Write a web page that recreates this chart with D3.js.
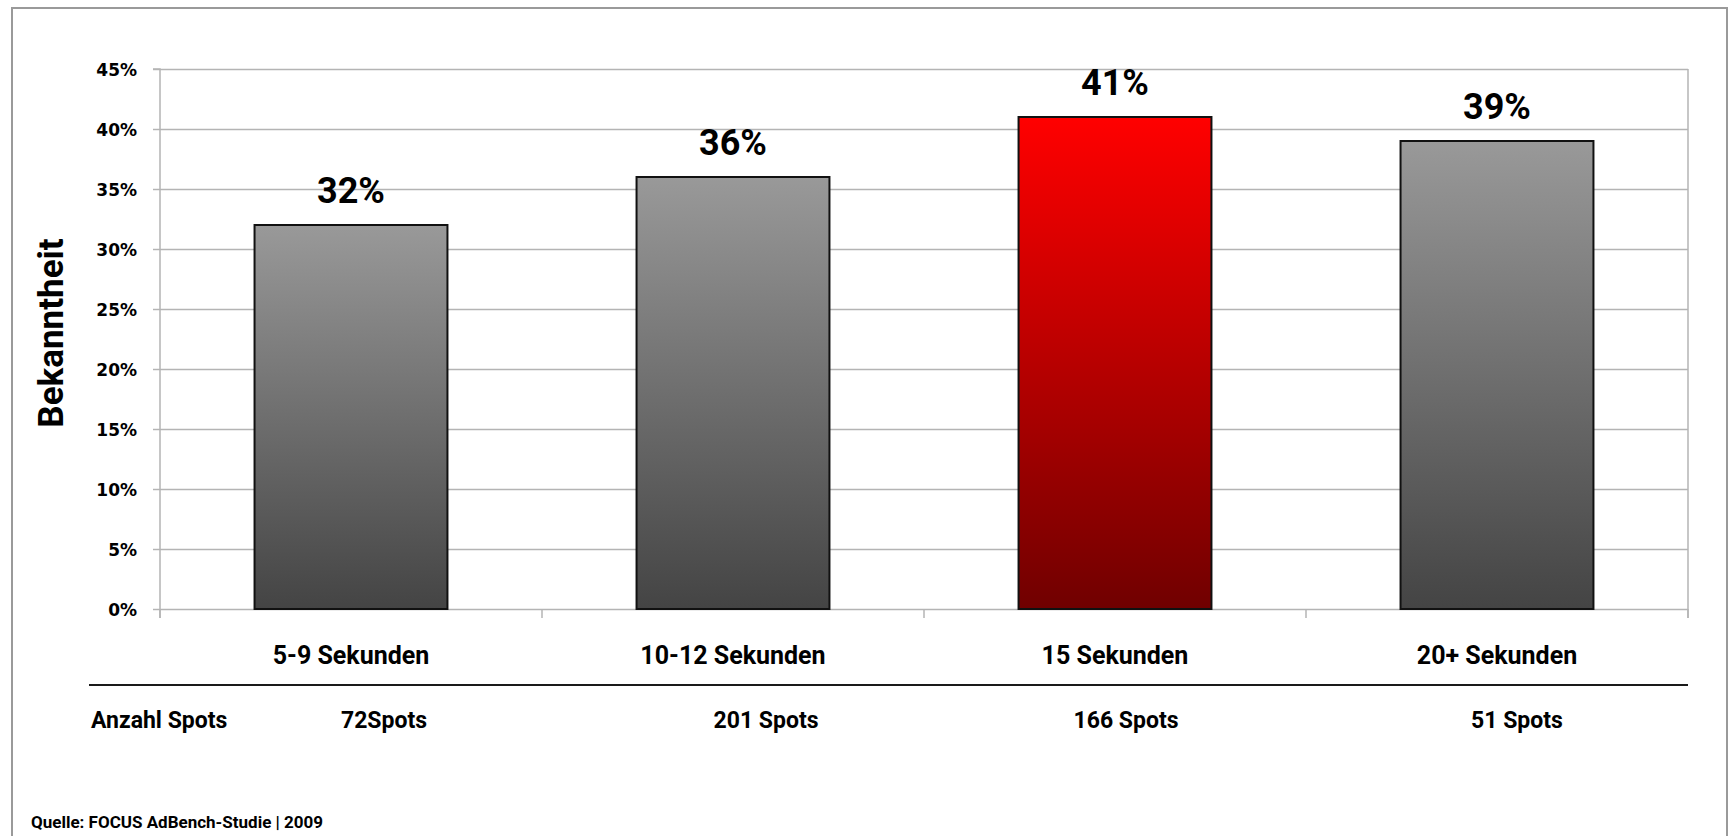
<!DOCTYPE html>
<html>
<head>
<meta charset="utf-8">
<script src="https://cdn.jsdelivr.net/npm/d3@7"></script>
<style>
  body { margin: 0; background: #fff; }
  text { font-family: Roboto, 'Noto Sans', sans-serif; font-weight: bold; fill: #000; }
</style>
</head>
<body>
<svg id="chart" width="1732" height="836"></svg>
<script>
const categories = ['5-9 Sekunden', '10-12 Sekunden', '15 Sekunden', '20+ Sekunden']
const values = [32, 36, 41, 39]
const spotLabels = ['72Spots', '201 Spots', '166 Spots', '51 Spots']
const highlighted = ['15 Sekunden']
const yTicks = [0, 5, 10, 15, 20, 25, 30, 35, 40, 45]
const yTitle = 'Bekanntheit'
const rowTitle = 'Anzahl Spots'
const source = 'Quelle: FOCUS AdBench-Studie | 2009'

// the spot counts sit in loose text boxes, not exactly under the bars
const spotShift = [33, 33, 11, 20]

const svg = d3.select('#chart')
const plotLeft = 160, plotRight = 1688, plotTop = 69, plotBottom = 609

const x = d3.scaleBand()
    .domain(categories)
    .range([plotLeft, plotRight])
    .paddingInner(0.495)
    .paddingOuter(0.2475)

const y = d3.scaleLinear()
    .domain([0, 45])
    .range([plotBottom, plotTop])

// outer frame
svg.append('rect')
    .attr('x', 12).attr('y', 8)
    .attr('width', 1715).attr('height', 840)
    .attr('fill', 'none')
    .attr('stroke', '#9a9a9a')
    .attr('stroke-width', 2)

const defs = svg.append('defs')
function gradient(id, c1, c2) {
  const g = defs.append('linearGradient')
      .attr('id', id)
      .attr('x1', 0).attr('y1', 0).attr('x2', 0).attr('y2', 1)
  g.append('stop').attr('offset', '0%').attr('stop-color', c1)
  g.append('stop').attr('offset', '100%').attr('stop-color', c2)
}
gradient('gGrey', '#999999', '#444444')
gradient('gRed', '#ff0000', '#700000')

// gridlines
svg.append('g')
    .attr('transform', `translate(${plotLeft},0)`)
    .call(d3.axisLeft(y).tickValues(yTicks).tickSize(-(plotRight - plotLeft)).tickFormat(''))
    .call(g => g.select('.domain').remove())
    .call(g => g.selectAll('line').attr('stroke', '#b4b4b4').attr('stroke-width', 1.5))

// plot area right edge
svg.append('line')
    .attr('x1', plotRight).attr('x2', plotRight)
    .attr('y1', y(45)).attr('y2', plotBottom + 9)
    .attr('stroke', '#b4b4b4').attr('stroke-width', 1.5)

// y axis
const yAxis = svg.append('g')
    .attr('transform', `translate(${plotLeft},0)`)
    .call(d3.axisLeft(y).tickValues(yTicks).tickSize(7).tickPadding(16).tickFormat(d => d + '%'))
yAxis.select('.domain').attr('stroke', '#b4b4b4').attr('stroke-width', 1.5)
    .attr('d', `M-7,${y(45)}H0V${plotBottom + 9}`)
yAxis.selectAll('line').attr('stroke', '#b4b4b4').attr('stroke-width', 1.5)
yAxis.selectAll('text')
    .style('font-family', "'DejaVu Sans', sans-serif")
    .style('font-weight', 'bold')
    .style('font-size', '17px')
    .attr('dy', '0.36em')

// category boundary ticks
const boundaries = d3.range(categories.length + 1).map(i => plotLeft + i * x.step())
svg.append('g').selectAll('line')
    .data(boundaries)
    .join('line')
    .attr('x1', d => d).attr('x2', d => d)
    .attr('y1', plotBottom).attr('y2', plotBottom + 9)
    .attr('stroke', '#b4b4b4').attr('stroke-width', 1.5)

// bars
svg.append('g').selectAll('rect')
    .data(categories)
    .join('rect')
    .attr('x', d => x(d))
    .attr('y', (d, i) => y(values[i]))
    .attr('width', x.bandwidth())
    .attr('height', (d, i) => y(0) - y(values[i]))
    .attr('fill', d => highlighted.includes(d) ? 'url(#gRed)' : 'url(#gGrey)')
    .attr('stroke', '#111')
    .attr('stroke-width', 2)

// value labels
svg.append('g').selectAll('text')
    .data(categories)
    .join('text')
    .attr('x', d => x(d) + x.bandwidth() / 2)
    .attr('y', (d, i) => y(values[i]) - 22)
    .attr('text-anchor', 'middle')
    .style('font-size', '36px')
    .text((d, i) => values[i] + '%')

// category labels
svg.append('g').selectAll('text')
    .data(categories)
    .join('text')
    .attr('x', d => x(d) + x.bandwidth() / 2)
    .attr('y', 664)
    .attr('text-anchor', 'middle')
    .style('font-size', '25px')
    .text(d => d)

// separator
svg.append('line')
    .attr('x1', 89).attr('x2', plotRight)
    .attr('y1', 685).attr('y2', 685)
    .attr('stroke', '#1a1a1a').attr('stroke-width', 2)

// spot counts row
svg.append('text')
    .attr('x', 91).attr('y', 728)
    .style('font-size', '23px')
    .text(rowTitle)

svg.append('g').selectAll('text')
    .data(categories)
    .join('text')
    .attr('x', (d, i) => x(d) + x.bandwidth() / 2 + spotShift[i])
    .attr('y', 728)
    .attr('text-anchor', 'middle')
    .style('font-size', '23px')
    .text((d, i) => spotLabels[i])

// y title
svg.append('text')
    .attr('transform', `translate(63,333) rotate(-90)`)
    .attr('text-anchor', 'middle')
    .style('font-size', '35px')
    .text(yTitle)

// source
svg.append('text')
    .attr('x', 31).attr('y', 828)
    .style('font-size', '17px')
    .text(source)
</script>
</body>
</html>
